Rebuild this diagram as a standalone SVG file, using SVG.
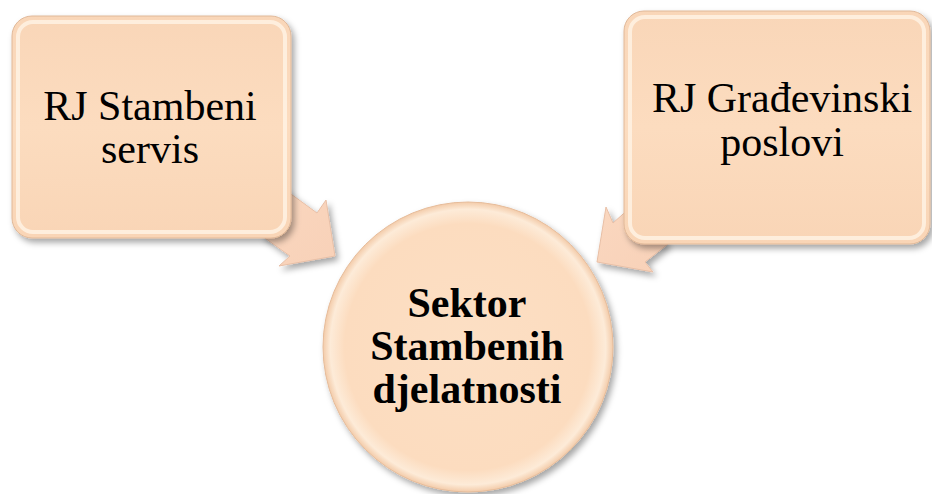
<svg xmlns="http://www.w3.org/2000/svg" width="932" height="494" viewBox="0 0 932 494">
<defs>
<style>
.t{font-family:"Liberation Serif","Times New Roman",serif;font-size:42px;fill:#000;text-anchor:middle}
.b{font-weight:bold}
.box{fill:url(#gBox);stroke:#e0b898;stroke-width:1}
.rim{fill:none;stroke:#fff4e6;stroke-width:4;opacity:0.8}
.arr{fill:url(#gArr);stroke:#e8bfa6;stroke-width:1}
</style>
<linearGradient id="gBox" x1="0" y1="0" x2="0" y2="1">
<stop offset="0" stop-color="#f9d6b8"/>
<stop offset="0.5" stop-color="#fcdcbf"/>
<stop offset="1" stop-color="#f9d5b6"/>
</linearGradient>
<linearGradient id="gArr" x1="0" y1="0" x2="1" y2="1">
<stop offset="0" stop-color="#fad7bf"/>
<stop offset="1" stop-color="#f8d1b8"/>
</linearGradient>
<radialGradient id="gCirc" cx="0.5" cy="0.5" r="0.5">
<stop offset="0" stop-color="#fcdfc4"/>
<stop offset="0.85" stop-color="#fcdcbf"/>
<stop offset="0.95" stop-color="#fdebd8"/>
<stop offset="1" stop-color="#f3cba9"/>
</radialGradient>
<filter id="sh" x="-10%" y="-10%" width="130%" height="130%">
<feDropShadow dx="3" dy="4" stdDeviation="3" flood-color="#000" flood-opacity="0.35"/>
</filter>
</defs>
<g id="connectors">
<path class="arr" filter="url(#sh)" d="M280,186 L317,213 L326,200 L335,256 L279,266 L290,256 L262,236 Z"/>
<path class="arr" filter="url(#sh)" d="M632,206 L613,223 L606,207 L597,262 L653,272 L645,262 L668,244 Z"/>
</g>
<g id="node-left">
<rect class="box" filter="url(#sh)" x="12" y="16" width="279" height="222" rx="20"/>
<rect class="rim" x="18" y="22" width="267" height="210" rx="15"/>
<text class="t" x="150" y="120">RJ Stambeni<tspan x="150" dy="43">servis</tspan></text>
</g>
<g id="node-right">
<rect class="box" filter="url(#sh)" x="624" y="11" width="306" height="233" rx="20"/>
<rect class="rim" x="630" y="17" width="294" height="221" rx="15"/>
<text class="t" x="782" y="112">RJ Građevinski<tspan x="782" dy="44">poslovi</tspan></text>
</g>
<g id="node-center">
<circle filter="url(#sh)" cx="468" cy="347" r="145" fill="url(#gCirc)" stroke="#e6bc9a" stroke-width="1"/>
<text class="t b" x="467" y="317">Sektor<tspan x="467" dy="43">Stambenih</tspan><tspan x="467" dy="43">djelatnosti</tspan></text>
</g>
</svg>
